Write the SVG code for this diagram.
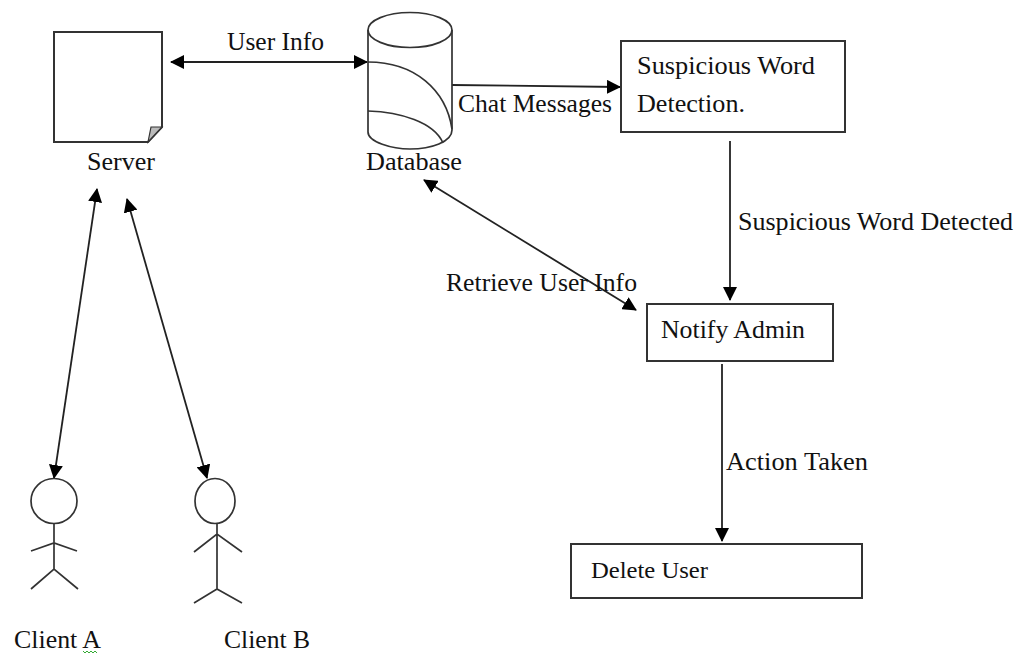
<svg xmlns="http://www.w3.org/2000/svg" width="1030" height="653" viewBox="0 0 1030 653">
<style>
text{font-family:"Liberation Serif","Times New Roman",serif;font-size:26px;fill:#111;lengthAdjust:spacingAndGlyphs}
.s{fill:none;stroke:#333;stroke-width:1.7}
.b{fill:#fff;stroke:#333;stroke-width:2}
.c{fill:none;stroke:#222;stroke-width:1.8}
</style>
<defs>
<marker id="a" viewBox="0 0 14 14" refX="13" refY="7" markerWidth="14" markerHeight="14" markerUnits="userSpaceOnUse" orient="auto-start-reverse"><path d="M0 0L14 7L0 14Z" fill="#000"/></marker>
</defs>
<rect width="1030" height="653" fill="#fff"/>
<g id="connectors">
<path class="c" d="M171 62H367" marker-start="url(#a)" marker-end="url(#a)"/>
<path class="c" d="M452 85L620 87" marker-end="url(#a)"/>
<path class="c" d="M730 141V300" marker-end="url(#a)"/>
<path class="c" d="M722 364V541" marker-end="url(#a)"/>
<path class="c" d="M424 180L636 310" marker-start="url(#a)" marker-end="url(#a)"/>
<path class="c" d="M97 189L54 478" marker-start="url(#a)" marker-end="url(#a)"/>
<path class="c" d="M127 199L207 478" marker-start="url(#a)" marker-end="url(#a)"/>
</g>
<g id="server">
<path class="b" d="M54 32H162V127L148 142H54Z"/>
<path d="M148 142L151 127L162 127Z" fill="#bbb" stroke="#333" stroke-width="1.2"/>
<text x="87" y="170" textLength="68" lengthAdjust="spacingAndGlyphs">Server</text>
</g>
<g id="database">
<path class="s" d="M368 30V132C368 142 392 149 410 149C431 149 452 142 452 130V30"/>
<ellipse class="s" cx="410" cy="30" rx="42" ry="17.500"/>
<path class="s" d="M368 62C415 62 446 90 452 129"/>
<path class="s" d="M368 111C400 112 434 122 443 143"/>
<text x="366" y="170" textLength="96" lengthAdjust="spacingAndGlyphs">Database</text>
</g>
<g id="detection">
<rect class="b" x="621" y="41" width="224" height="91"/>
<text x="637" y="74" textLength="178" lengthAdjust="spacingAndGlyphs">Suspicious Word</text>
<text x="637" y="112" textLength="108" lengthAdjust="spacingAndGlyphs">Detection.</text>
</g>
<g id="notify">
<rect class="b" x="647" y="304" width="186" height="57"/>
<text x="661" y="338" textLength="144" lengthAdjust="spacingAndGlyphs">Notify Admin</text>
</g>
<g id="delete">
<rect class="b" x="571" y="544" width="291" height="54"/>
<text x="591" y="578" textLength="117" lengthAdjust="spacingAndGlyphs" style="font-size:24px">Delete User</text>
</g>
<g id="client-a">
<ellipse class="s" cx="54" cy="501" rx="23" ry="22.500"/>
<path class="s" d="M54 524V569M31 551L54 543L77 551M31 589L54 569L78 589"/>
<text x="14" y="648" textLength="87" lengthAdjust="spacingAndGlyphs">Client A</text>
<path d="M83 651l2 2l2-2l2 2l2-2l2 2l2-2l2 2" fill="none" stroke="#3a3" stroke-width="1"/>
</g>
<g id="client-b">
<ellipse class="s" cx="215" cy="501" rx="20" ry="22.500"/>
<path class="s" d="M217 524V589M194 552L217 534L242 552M194 603L217 589L242 603"/>
<text x="224" y="648" textLength="86" lengthAdjust="spacingAndGlyphs">Client B</text>
</g>
<g id="labels">
<text x="227" y="50" textLength="97" lengthAdjust="spacingAndGlyphs">User Info</text>
<text x="458" y="112" textLength="154" lengthAdjust="spacingAndGlyphs">Chat Messages</text>
<text x="738" y="230" textLength="275" lengthAdjust="spacingAndGlyphs">Suspicious Word Detected</text>
<text x="446" y="291" textLength="191" lengthAdjust="spacingAndGlyphs">Retrieve User Info</text>
<text x="726" y="470" textLength="142" lengthAdjust="spacingAndGlyphs">Action Taken</text>
</g>
</svg>
